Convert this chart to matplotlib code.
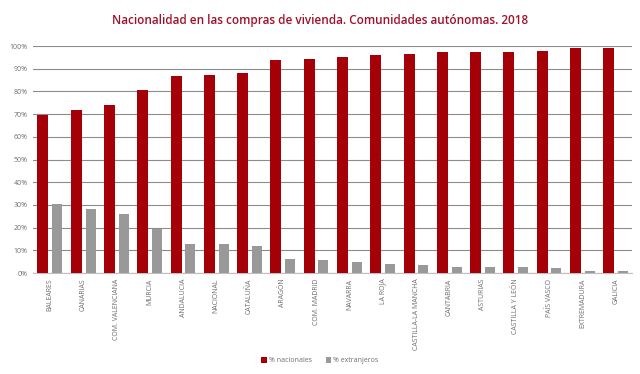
import matplotlib
matplotlib.use("Agg")
import matplotlib.pyplot as plt
import numpy as np

categories = ["BALEARES", "CANARIAS", "COM. VALENCIANA", "MURCIA", "ANDALUCIA", "NACIONAL",
              "CATALUÑA", "ARAGÓN", "COM. MADRID", "NAVARRA", "LA ROJA", "CASTILLA-LA MANCHA",
              "CANTABRIA", "ASTURIAS", "CASTILLA Y LEÓN", "PAÍS VASCO", "EXTREMADURA", "GALICIA"]
nacionales = [69.5, 71.7, 74.0, 80.5, 87.0, 87.4, 88.2, 93.8, 94.3, 95.2, 96.0, 96.5, 97.2, 97.3, 97.4, 97.8, 99.0, 99.3]
extranjeros = [30.5, 28.3, 26.0, 19.5, 13.0, 12.6, 11.8, 6.2, 5.7, 4.8, 4.0, 3.5, 2.8, 2.7, 2.6, 2.2, 1.0, 0.7]
yticks = [0, 10, 20, 30, 40, 50, 60, 70, 80, 90, 100]

plt.rcParams['font.family'] = ['Open Sans', 'DejaVu Sans']

fig = plt.figure(figsize=(6.4, 3.74), dpi=100)
ax = fig.add_axes([0.052, 0.27, 0.936, 0.607])

x = np.arange(len(categories))
red = "#A50008"
gray = "#999999"
ax.bar(x - 0.21, nacionales, 0.33, color=red, label="% nacionales", zorder=3)
ax.bar(x + 0.22, extranjeros, 0.30, color=gray, label="% extranjeros", zorder=3)

ax.set_xlim(-0.5, len(categories) - 0.5)
ax.set_ylim(0, 100)
ax.set_yticks(yticks)
ax.set_yticklabels([f"{v}%" for v in yticks], fontsize=5, color="#6e6e6e")
ax.set_xticks(x)
ax.set_xticklabels(categories, rotation=90, fontsize=5, color="#6e6e6e", va="top")
ax.tick_params(axis="both", length=0, pad=4)
ax.yaxis.grid(True, color="#8c8c8c", linewidth=0.8, zorder=0)
for s in ["top", "right", "left"]:
    ax.spines[s].set_visible(False)
ax.spines["bottom"].set_color("#bfbfbf")

fig.text(0.5, 0.945, "Nacionalidad en las compras de vivienda. Comunidades autónomas. 2018",
         ha="center", va="center", fontsize=8.5, color="#A0102A", fontweight="semibold")

fig.legend(loc="center", bbox_to_anchor=(0.5, 0.035), ncol=2, fontsize=5, frameon=False,
           handlelength=0.8, handleheight=0.8, columnspacing=2, handletextpad=0.3,
           labelcolor="#6e6e6e")

fig.savefig("out.png", dpi=100)
